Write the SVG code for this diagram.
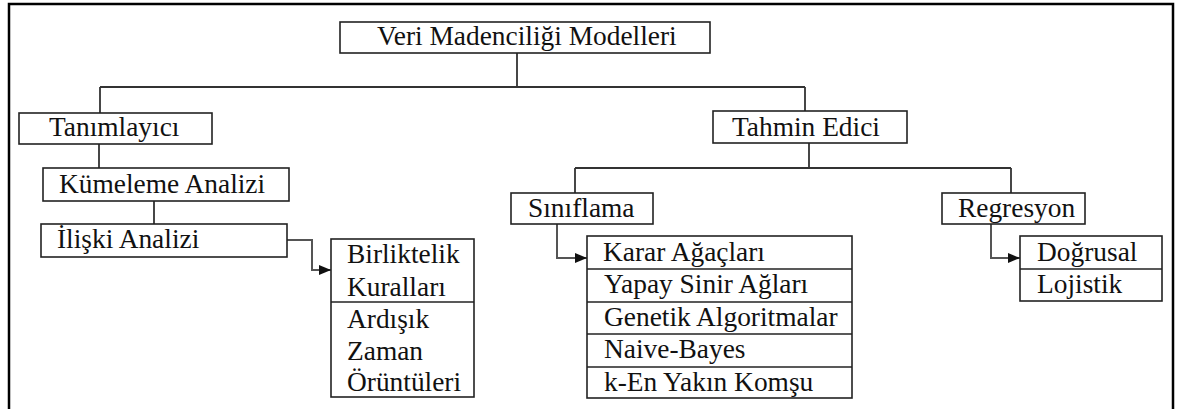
<svg xmlns="http://www.w3.org/2000/svg" width="1181" height="409" viewBox="0 0 1181 409">
  <style>
    .box { fill: #fff; stroke: #222; stroke-width: 1.6; }
    .lbl { font-family: "Liberation Serif", "Times New Roman", serif; font-size: 27.4px; fill: #111; }
    .link { fill: none; stroke: #333; stroke-width: 1.8; }
    .arrow { fill: none; stroke: #555; stroke-width: 2; }
  </style>
  <defs>
    <marker id="head" viewBox="0 0 12 10" refX="12" refY="5" markerWidth="12" markerHeight="10" markerUnits="userSpaceOnUse" orient="auto">
      <path d="M0,0 L12,5 L0,10 Z" fill="#111"/>
    </marker>
  </defs>

  <!-- frame (open at the bottom) -->
  <path d="M9,409 V4 H1173 V409" fill="none" stroke="#000" stroke-width="2.5"/>

  <!-- connectors -->
  <g id="connectors">
    <path class="link" d="M517,53 V87 M100,87 H805 M100,87 V113 M805,87 V111"/>
    <path class="link" d="M99,144 V168 M154,201 V224"/>
    <path class="link" d="M809,143 V168 M575,168 H1011 M575,168 V193 M1011,168 V193"/>
    <path class="arrow" d="M287,240 H312 V270 H331" marker-end="url(#head)"/>
    <path class="arrow" d="M557,224 V258 H587" marker-end="url(#head)"/>
    <path class="arrow" d="M991,224 V258 H1020" marker-end="url(#head)"/>
  </g>

  <g id="root">
    <rect class="box" x="340" y="22" width="370" height="31"/>
    <text class="lbl" x="377" y="45">Veri Madenciliği Modelleri</text>
  </g>

  <g id="tanimlayici">
    <rect class="box" x="19" y="113" width="193" height="31"/>
    <text class="lbl" x="49" y="136">Tanımlayıcı</text>
  </g>

  <g id="kumeleme">
    <rect class="box" x="43" y="168" width="246" height="33"/>
    <text class="lbl" x="59" y="193">Kümeleme Analizi</text>
  </g>

  <g id="iliski">
    <rect class="box" x="41" y="224" width="246" height="33"/>
    <text class="lbl" x="57" y="248">İlişki Analizi</text>
  </g>

  <g id="iliski-turleri">
    <rect class="box" x="331" y="239" width="143" height="158"/>
    <line class="box" x1="331" y1="302" x2="474" y2="302"/>
    <text class="lbl" x="347" y="263">Birliktelik</text>
    <text class="lbl" x="347" y="296">Kuralları</text>
    <text class="lbl" x="347" y="328">Ardışık</text>
    <text class="lbl" x="347" y="360">Zaman</text>
    <text class="lbl" x="347" y="391">Örüntüleri</text>
  </g>

  <g id="tahmin">
    <rect class="box" x="713" y="111" width="194" height="32"/>
    <text class="lbl" x="732" y="136">Tahmin Edici</text>
  </g>

  <g id="siniflama">
    <rect class="box" x="511" y="193" width="142" height="31"/>
    <text class="lbl" x="528" y="217">Sınıflama</text>
  </g>

  <g id="regresyon">
    <rect class="box" x="942" y="193" width="143" height="31"/>
    <text class="lbl" x="958" y="217">Regresyon</text>
  </g>

  <g id="siniflama-yontemleri">
    <rect class="box" x="587" y="236" width="265" height="162"/>
    <line class="box" x1="587" y1="269" x2="852" y2="269"/>
    <line class="box" x1="587" y1="302" x2="852" y2="302"/>
    <line class="box" x1="587" y1="334" x2="852" y2="334"/>
    <line class="box" x1="587" y1="367" x2="852" y2="367"/>
    <text class="lbl" x="603" y="261">Karar Ağaçları</text>
    <text class="lbl" x="604" y="293">Yapay Sinir Ağları</text>
    <text class="lbl" x="604" y="326">Genetik Algoritmalar</text>
    <text class="lbl" x="604" y="358">Naive-Bayes</text>
    <text class="lbl" x="604" y="391">k-En Yakın Komşu</text>
  </g>

  <g id="regresyon-turleri">
    <rect class="box" x="1020" y="236" width="142" height="65"/>
    <line class="box" x1="1020" y1="269" x2="1162" y2="269"/>
    <text class="lbl" x="1037" y="261">Doğrusal</text>
    <text class="lbl" x="1037" y="293">Lojistik</text>
  </g>
</svg>
